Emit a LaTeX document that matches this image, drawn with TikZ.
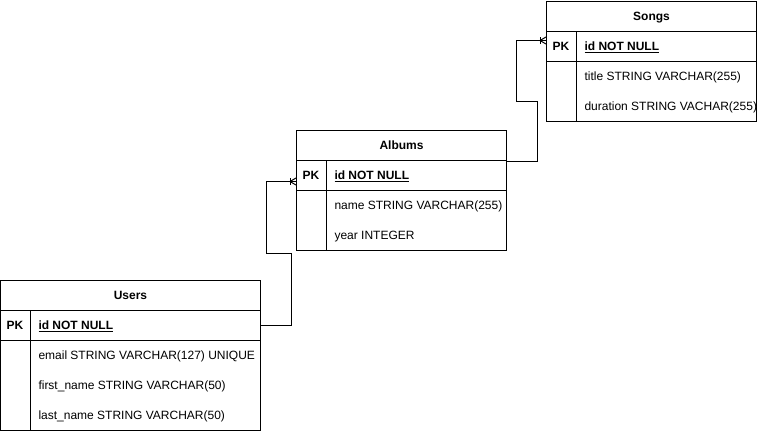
\documentclass[tikz,border=0pt]{standalone}
\usepackage{fontspec}
\setmainfont{Liberation Sans}
\usetikzlibrary{calc,positioning}

\newcommand{\erfont}{\fontsize{12}{14}\selectfont}

\tikzset{
  tbltitle/.style={draw, anchor=north west, minimum height=30pt, font=\erfont\bfseries},
  tblrow/.style={draw, anchor=north west, minimum height=30pt},
  pktag/.style={font=\erfont\bfseries},
  keyfield/.style={anchor=west, font=\erfont\bfseries},
  field/.style={anchor=west},
  crowfoot/.pic={\draw (-6,-3.5) -- (-6,3.5); \draw (0,-3.5) -- (-6,0) -- (0,3.5);}
}

\begin{document}
\begin{tikzpicture}[x=1pt,y=-1pt,line width=1pt,
  every node/.style={font=\erfont, inner sep=0pt, text height=8.6pt, text depth=0pt}]
\useasboundingbox (0,0) rectangle (757,431);

% Users
\node[tbltitle, minimum width=260pt] (users) at (0,280) {Users};
\node[tblrow, minimum width=260pt] (userspk) at (0,310) {};
\node[tblrow, minimum width=260pt, minimum height=90pt] (usersbody) at (0,340) {};
\draw ($(userspk.north west)+(30,0)$) -- ($(usersbody.south west)+(30,0)$);
\node[pktag] (userspktag) at (15,325) {PK};
\node[keyfield] (usersid) at (38,325) {\underline{id NOT NULL}};
\node[field] (usersemail) at (38,355) {email STRING VARCHAR(127) UNIQUE};
\node[field] (usersfirst) at (38,385) {first\_name STRING VARCHAR(50)};
\node[field] (userslast) at (38,415) {last\_name STRING VARCHAR(50)};

% Albums
\node[tbltitle, minimum width=210pt] (albums) at (296,130) {Albums};
\node[tblrow, minimum width=210pt] (albumspk) at (296,160) {};
\node[tblrow, minimum width=210pt, minimum height=60pt] (albumsbody) at (296,190) {};
\draw ($(albumspk.north west)+(30,0)$) -- ($(albumsbody.south west)+(30,0)$);
\node[pktag] (albumspktag) at (311,175) {PK};
\node[keyfield] (albumsid) at (334,175) {\underline{id NOT NULL}};
\node[field] (albumsname) at (334,205) {name STRING VARCHAR(255)};
\node[field] (albumsyear) at (334,235) {year INTEGER};

% Songs
\node[tbltitle, minimum width=210pt] (songs) at (546,1) {Songs};
\node[tblrow, minimum width=210pt] (songspk) at (546,31) {};
\node[tblrow, minimum width=210pt, minimum height=60pt] (songsbody) at (546,61) {};
\draw ($(songspk.north west)+(30,0)$) -- ($(songsbody.south west)+(30,0)$);
\node[pktag] (songspktag) at (561,46) {PK};
\node[keyfield] (songsid) at (584,46) {\underline{id NOT NULL}};
\node[field] (songstitle) at (584,76) {title STRING VARCHAR(255)};
\node[field] (songsduration) at (584,106) {duration STRING VACHAR(255)};

% relations
\coordinate (albumsin) at ($(albumspk.west)+(0,6)$);
\coordinate (songsin) at ($(songspk.west)+(0,-6)$);
\draw (userspk.east) -- ++(30,0) -- ++(0,-72) -| ($(albumsin)+(-30,0)$) -- (albumsin);
\pic at (albumsin) {crowfoot};
\draw (albums.south east) -- ++(30,0) -- ++(0,-60) -| ($(songsin)+(-30,0)$) -- (songsin);
\pic at (songsin) {crowfoot};
\end{tikzpicture}
\end{document}
